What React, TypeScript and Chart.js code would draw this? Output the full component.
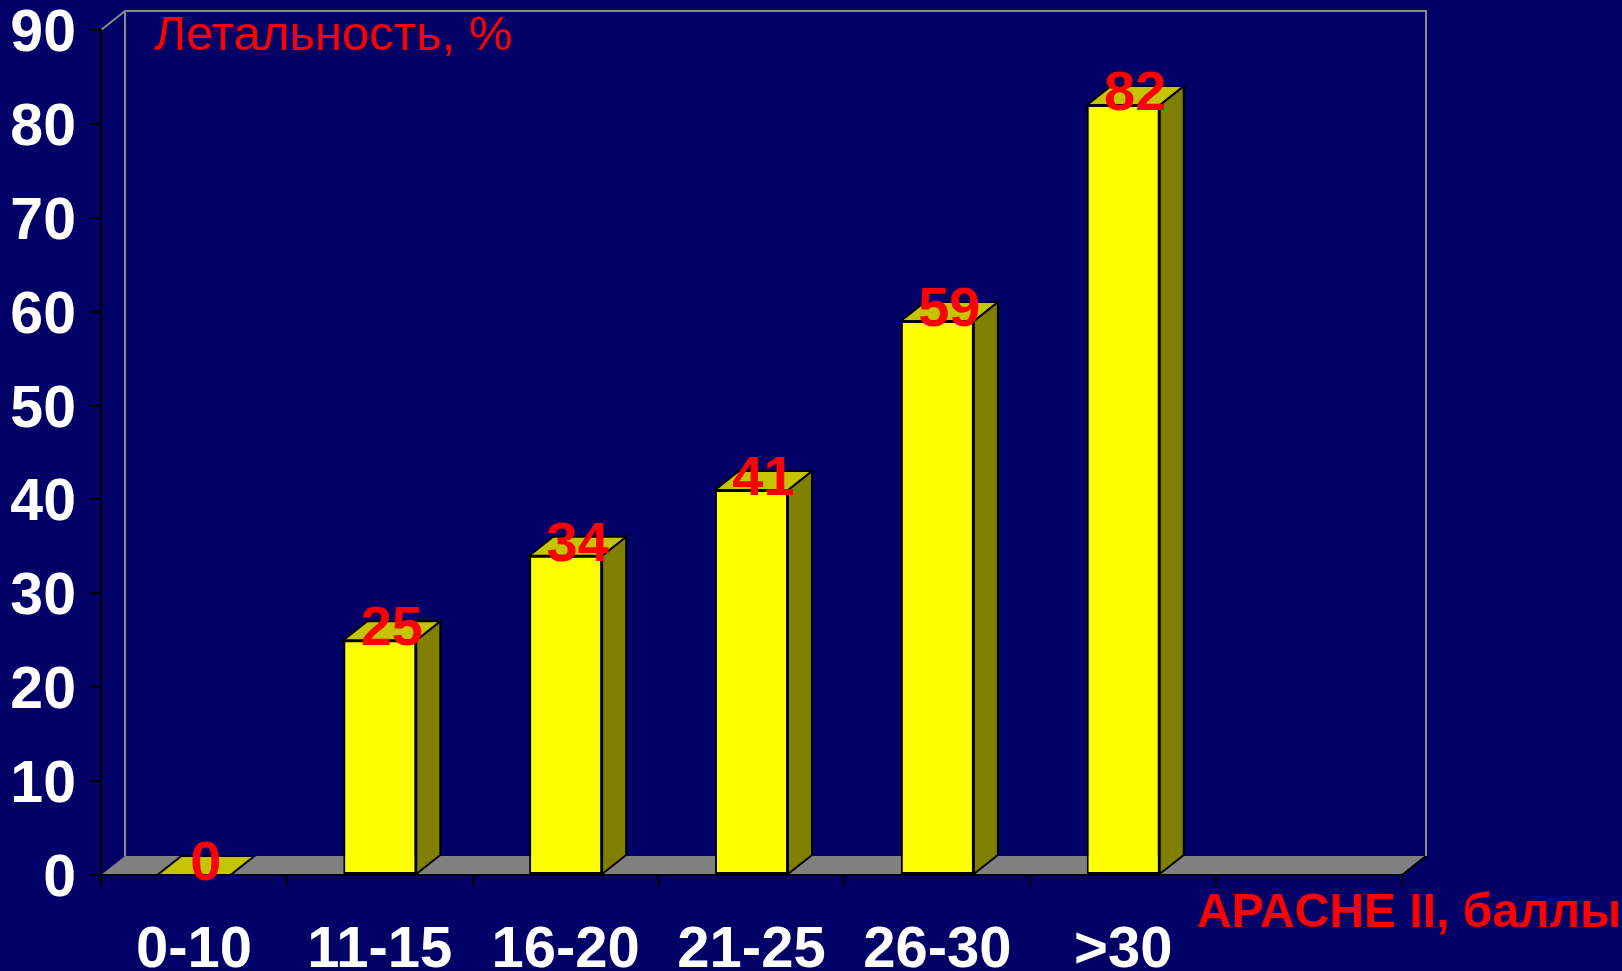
import React, { useEffect, useRef } from "react";
import { Chart, registerables } from "chart.js";

Chart.register(...registerables);

// APACHE II score groups (the last slot is an empty category that leaves room on the floor)
const categories: string[] = ["0-10", "11-15", "16-20", "21-25", "26-30", ">30", ""];
// Mortality per group, %
const mortality: (number | null)[] = [0, 25, 34, 41, 59, 82, null];
// Y axis range and step
const yMin = 0;
const yMax = 90;
const yStep = 10;

const yAxisTitle = "Летальность, %";
const xAxisTitle = "APACHE II, баллы";

const BG = "#000066";
const FRONT = "#ffff00";
const SIDE = "#808000";
const TOP = "#c4c400";
const FLOOR = "#808080";
const WALL = "#8a8a8a";
const LABEL_RED = "#ff0000";
const FONT = "'Liberation Sans', Arial, Helvetica, sans-serif";

// oblique depth offset of the 3D box
const DX = 24;
const DY = -19;

const poly = (ctx: CanvasRenderingContext2D, pts: number[][]) => {
  ctx.beginPath();
  ctx.moveTo(pts[0][0], pts[0][1]);
  for (let i = 1; i < pts.length; i++) ctx.lineTo(pts[i][0], pts[i][1]);
  ctx.closePath();
};

const box3d = {
  id: "box3d",
  beforeDraw(chart: any) {
    const { ctx, chartArea: a } = chart;
    ctx.save();
    // floor
    ctx.fillStyle = FLOOR;
    poly(ctx, [
      [a.left, a.bottom],
      [a.right, a.bottom],
      [a.right + DX, a.bottom + DY],
      [a.left + DX, a.bottom + DY],
    ]);
    ctx.fill();
    // right edge of the floor
    ctx.strokeStyle = "#000000";
    ctx.lineWidth = 2;
    ctx.beginPath();
    ctx.moveTo(a.right, a.bottom);
    ctx.lineTo(a.right + DX, a.bottom + DY);
    ctx.stroke();
    // back wall frame
    ctx.strokeStyle = WALL;
    ctx.lineWidth = 2;
    ctx.beginPath();
    ctx.moveTo(a.left, a.top);
    ctx.lineTo(a.left + DX, a.top + DY);
    ctx.lineTo(a.right + DX, a.top + DY);
    ctx.lineTo(a.right + DX, a.bottom + DY);
    ctx.moveTo(a.left + DX, a.top + DY);
    ctx.lineTo(a.left + DX, a.bottom + DY);
    ctx.stroke();
    ctx.restore();
  },
  afterDatasetsDraw(chart: any) {
    const { ctx, chartArea: a } = chart;
    const meta = chart.getDatasetMeta(0);
    ctx.save();
    ctx.lineWidth = 2;
    ctx.strokeStyle = "#000000";
    ctx.lineJoin = "miter";
    meta.data.forEach((bar: any, i: number) => {
      const v = mortality[i];
      if (v == null) return;
      const { x, y, base, width } = bar.getProps(["x", "y", "base", "width"], true);
      const l = x - width / 2;
      const r = x + width / 2;
      // side face
      if (base - y > 0.5) {
        ctx.fillStyle = SIDE;
        poly(ctx, [
          [r, y],
          [r + DX, y + DY],
          [r + DX, base + DY],
          [r, base],
        ]);
        ctx.fill();
        ctx.stroke();
      }
      // top face
      ctx.fillStyle = TOP;
      poly(ctx, [
        [l, y],
        [r, y],
        [r + DX, y + DY],
        [l + DX, y + DY],
      ]);
      ctx.fill();
      ctx.stroke();
    });
    // value labels
    ctx.fillStyle = LABEL_RED;
    ctx.font = `bold 56px ${FONT}`;
    ctx.textAlign = "center";
    ctx.textBaseline = "alphabetic";
    meta.data.forEach((bar: any, i: number) => {
      const v = mortality[i];
      if (v == null) return;
      const { x, y } = bar.getProps(["x", "y"], true);
      ctx.fillText(String(v), x + DX / 2, y + 5);
    });
    // axis titles
    ctx.font = `49px ${FONT}`;
    ctx.textAlign = "left";
    ctx.fillText(yAxisTitle, a.left + 53, a.top + 20);
    ctx.font = `bold 48px ${FONT}`;
    ctx.fillText(xAxisTitle, a.right - 205, a.bottom + 52);
    ctx.restore();
  },
};

export default function App() {
  const ref = useRef<HTMLCanvasElement | null>(null);

  useEffect(() => {
    if (!ref.current) return;
    const chart = new Chart(ref.current, {
      type: "bar",
      data: {
        labels: categories,
        datasets: [
          {
            data: mortality as any,
            backgroundColor: FRONT,
            borderColor: "#000000",
            borderWidth: 2,
            borderSkipped: false,
            barPercentage: 0.393,
            categoryPercentage: 1,
          },
        ],
      },
      options: {
        responsive: false,
        animation: false,
        events: [],
        layout: { padding: { left: 0, right: 220, top: 30, bottom: 0 } },
        plugins: {
          legend: { display: false },
          tooltip: { enabled: false },
          title: { display: false },
        },
        scales: {
          x: {
            grid: {
              display: true,
              drawOnChartArea: false,
              drawTicks: true,
              tickLength: 12,
              color: "#000000",
              lineWidth: 2,
              offset: true,
            },
            border: { display: true, color: "#000000", width: 2 },
            ticks: {
              color: "#ffffff",
              font: { family: FONT, size: 58, weight: "bold" },
              maxRotation: 0,
              autoSkip: false,
              padding: 29,
            },
            afterFit: (scale: any) => {
              scale.height = 96;
              scale.paddingLeft = 0;
              scale.paddingRight = 0;
            },
          },
          y: {
            min: yMin,
            max: yMax,
            grid: {
              display: true,
              drawOnChartArea: false,
              drawTicks: true,
              tickLength: 11,
              color: "#000000",
              lineWidth: 2,
            },
            border: { display: true, color: "#000000", width: 2 },
            ticks: {
              stepSize: yStep,
              color: "#ffffff",
              // a blank leading line nudges each label a few pixels below its tick
              font: { family: FONT, size: 59, weight: "bold", lineHeight: 0.16 },
              padding: 14,
              callback: (value: any) => ["", String(value)],
            },
            afterFit: (scale: any) => {
              scale.width = 101;
              scale.paddingTop = 0;
              scale.paddingBottom = 0;
            },
          },
        },
      },
      plugins: [box3d],
    });
    return () => chart.destroy();
  }, []);

  return (
    <div
      style={{
        position: "fixed",
        left: 0,
        top: 0,
        width: 1622,
        height: 971,
        background: BG,
        overflow: "hidden",
      }}
    >
      <canvas ref={ref} width={1622} height={971} style={{ display: "block" }} />
    </div>
  );
}
